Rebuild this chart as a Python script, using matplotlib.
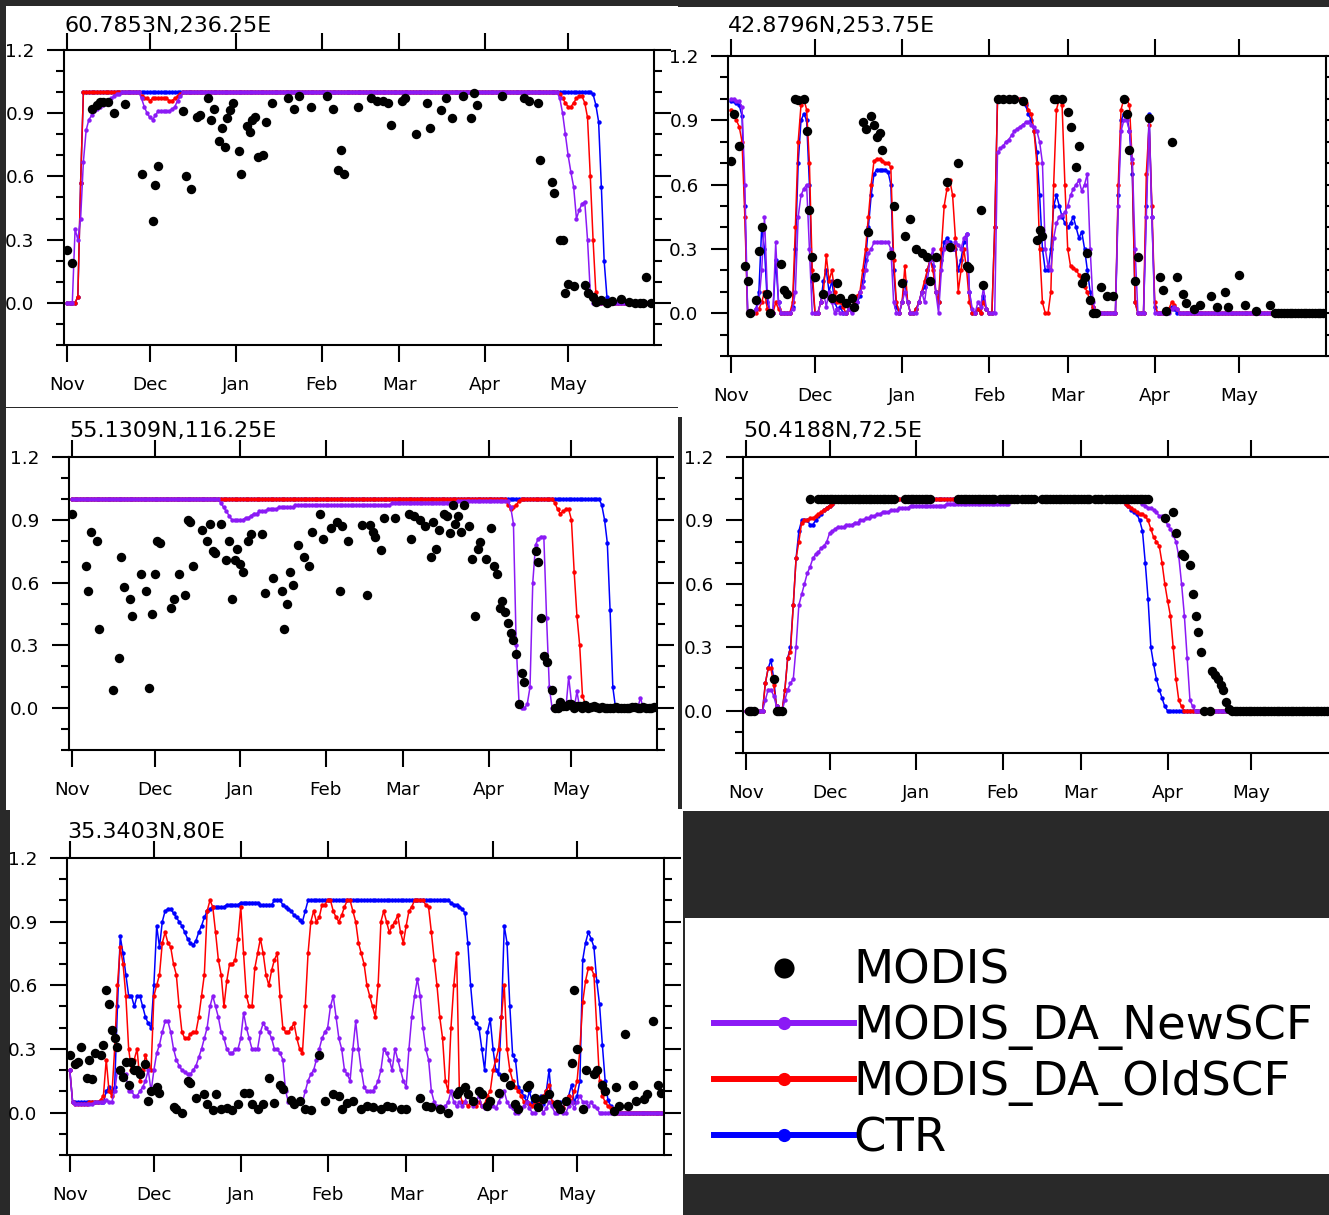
import numpy as np
import matplotlib
matplotlib.use('Agg')
import matplotlib.pyplot as plt
from matplotlib.patches import Rectangle
from matplotlib.lines import Line2D
from matplotlib.ticker import MultipleLocator

# daily snow cover fraction, 1 Nov (day 0) .. 31 May (day 211)
days = np.arange(212)
months = ['Nov', 'Dec', 'Jan', 'Feb', 'Mar', 'Apr', 'May']
month_start = [0, 30, 61, 92, 120, 151, 181]
ytick_vals = [0.0, 0.3, 0.6, 0.9, 1.2]
ytick_text = ['0.0', '0.3', '0.6', '0.9', '1.2']
labels = ['MODIS', 'MODIS_DA_NewSCF', 'MODIS_DA_OldSCF', 'CTR']

# ---------------- 60.7853N,236.25E
p1_title = '60.7853N,236.25E'
p1_ctr = [0.0, 0.0, 0.0, 0.0, 0.03, 0.57] + [1.0] * 184 + [0.99, 0.94, 0.86, 0.55, 0.2, 0.03] + [0.0] * 16
p1_old = ([0.0, 0.0, 0.0, 0.0, 0.03, 0.57] + [1.0] * 21
          + [0.98, 0.97, 0.97, 0.96, 0.97, 0.97, 0.97, 0.97, 0.97, 0.97, 0.96, 0.96, 0.97, 0.98, 0.99]
          + [1.0] * 136
          + [0.99, 0.97, 0.95, 0.93, 0.93, 0.95, 0.97, 0.98, 0.98, 0.95, 0.88, 0.6, 0.3, 0.05]
          + [0.0] * 20)
p1_new = ([0.0, 0.0, 0.0, 0.35, 0.30, 0.40, 0.67, 0.82, 0.87, 0.89, 0.91, 0.92, 0.93, 0.94, 0.95,
           0.96, 0.97, 0.98, 0.99, 0.99] + [1.0] * 7
          + [0.97, 0.93, 0.90, 0.88, 0.87, 0.89, 0.91, 0.91, 0.91, 0.91, 0.91, 0.92, 0.93, 0.96, 0.98]
          + [1.0] * 136
          + [0.97, 0.9, 0.8, 0.7, 0.62, 0.55, 0.40, 0.44, 0.47, 0.48, 0.30, 0.05, 0.0]
          + [0.0] * 21)
p1_modis_day = [0, 2, 9, 11, 12, 13, 15, 17, 21, 27, 31, 32, 33, 42, 43, 45, 47, 48, 51, 52,
                53, 55, 56, 57, 58, 59, 60, 62, 63, 65, 66, 67, 68, 69, 71, 72, 74, 80, 82, 84,
                88, 94, 96, 98, 99, 100, 105, 110, 112, 114, 116, 117, 121, 122, 126, 130, 131, 135, 137, 139,
                143, 146, 147, 148, 157, 165, 167, 170, 171, 175, 176, 178, 179, 180, 181, 183, 187, 188, 190, 191,
                193, 195, 197, 200, 203, 205, 207, 208, 209, 211]
p1_modis_val = [0.25, 0.19, 0.92, 0.94, 0.955, 0.955, 0.955, 0.9, 0.945, 0.61,
                0.39, 0.56, 0.65, 0.91, 0.6, 0.54, 0.88, 0.89, 0.97, 0.87,
                0.92, 0.77, 0.83, 0.74, 0.875, 0.915, 0.947, 0.72, 0.61, 0.84,
                0.81, 0.87, 0.88, 0.69, 0.70, 0.86, 0.95, 0.97, 0.92, 0.98,
                0.93, 0.98, 0.92, 0.63, 0.725, 0.61, 0.93, 0.97, 0.96, 0.96,
                0.95, 0.845, 0.96, 0.97, 0.80, 0.95, 0.83, 0.915, 0.97, 0.875,
                0.98, 0.875, 0.995, 0.94, 0.98, 0.97, 0.96, 0.95, 0.68, 0.575,
                0.52, 0.30, 0.30, 0.046, 0.09, 0.08, 0.085, 0.046, 0.03, 0.006,
                0.014, 0.0, 0.01, 0.02, 0.006, 0.0, 0.0, 0.0, 0.125, 0.0]

# ---------------- 42.8796N,253.75E
p2_title = '42.8796N,253.75E'
p2_ctr = [0.99, 0.99, 0.98, 0.97, 0.92, 0.5, 0.0, 0.0, 0.0, 0.02,
          0.1, 0.4, 0.3, 0.05, 0.0, 0.0, 0.25, 0.05, 0.0, 0.0,
          0.0, 0.0, 0.03, 0.3, 0.7, 0.9, 0.93, 0.9, 0.6, 0.15,
          0.0, 0.0, 0.05, 0.15, 0.2, 0.1, 0.15, 0.05, 0.02, 0.03,
          0.0, 0.0, 0.02, 0.02, 0.03, 0.05, 0.08, 0.15, 0.25, 0.4,
          0.55, 0.65, 0.67, 0.67, 0.67, 0.67, 0.66, 0.6, 0.2, 0.03,
          0.0, 0.05, 0.15, 0.05, 0.0, 0.0, 0.02, 0.05, 0.1, 0.12,
          0.2, 0.25, 0.22, 0.1, 0.05, 0.25, 0.33, 0.35, 0.33, 0.3,
          0.3, 0.2, 0.25, 0.33, 0.37, 0.1, 0.0, 0.0, 0.02, 0.0,
          0.08, 0.02, 0.0, 0.0, 0.4, 1.0, 1.0, 1.0, 1.0, 1.0,
          1.0, 1.0, 1.0, 1.0, 1.0, 0.97, 0.93, 0.9, 0.85, 0.75,
          0.55, 0.3, 0.2, 0.2, 0.3, 0.5, 0.55, 0.5, 0.45, 0.42,
          0.4, 0.42, 0.45, 0.4, 0.35, 0.38, 0.3, 0.2, 0.1, 0.03,
          0.0, 0.0, 0.0, 0.0, 0.0, 0.0, 0.0, 0.0, 0.55, 0.9,
          0.93, 0.92, 0.85, 0.65, 0.05, 0.0, 0.0, 0.0, 0.5, 0.93,
          0.45, 0.03, 0.0, 0.0, 0.0, 0.0, 0.02, 0.03, 0.02, 0.0] + [0.0] * 52
p2_old = [0.95, 0.93, 0.9, 0.87, 0.8, 0.45, 0.0, 0.0, 0.0, 0.0,
          0.02, 0.05, 0.1, 0.02, 0.0, 0.0, 0.05, 0.02, 0.0, 0.0,
          0.0, 0.0, 0.05, 0.4, 0.8, 0.97, 1.0, 0.95, 0.7, 0.2,
          0.0, 0.0, 0.05, 0.1, 0.27, 0.15, 0.2, 0.1, 0.05, 0.05,
          0.03, 0.0, 0.02, 0.02, 0.05, 0.08, 0.1, 0.2, 0.3, 0.45,
          0.6, 0.71, 0.72, 0.72, 0.71, 0.7, 0.7, 0.68, 0.25, 0.05,
          0.0, 0.05, 0.22, 0.05, 0.0, 0.0, 0.02, 0.05, 0.1, 0.15,
          0.2, 0.25, 0.2, 0.1, 0.05, 0.3, 0.5, 0.58, 0.62, 0.55,
          0.35, 0.1, 0.2, 0.3, 0.2, 0.05, 0.0, 0.0, 0.02, 0.0,
          0.05, 0.02, 0.0, 0.0, 0.4, 1.0, 1.0, 1.0, 1.0, 1.0,
          1.0, 1.0, 1.0, 1.0, 1.0, 0.98, 0.95, 0.93, 0.85, 0.7,
          0.3, 0.05, 0.0, 0.0, 0.1, 0.6, 0.95, 1.0, 0.97, 0.6,
          0.3, 0.22, 0.21, 0.2, 0.18, 0.15, 0.12, 0.1, 0.05, 0.03,
          0.0, 0.0, 0.0, 0.0, 0.0, 0.0, 0.0, 0.0, 0.6, 0.95,
          1.0, 1.0, 0.97, 0.7, 0.05, 0.0, 0.0, 0.0, 0.65, 0.88,
          0.5, 0.05, 0.0, 0.0, 0.0, 0.0, 0.02, 0.05, 0.04, 0.02] + [0.0] * 52
p2_new = [1.0, 1.0, 0.99, 0.99, 0.96, 0.6, 0.0, 0.0, 0.0, 0.02,
          0.05, 0.2, 0.45, 0.1, 0.0, 0.0, 0.33, 0.05, 0.0, 0.0,
          0.0, 0.0, 0.02, 0.1, 0.45, 0.55, 0.58, 0.6, 0.3, 0.0,
          0.0, 0.0, 0.05, 0.1, 0.03, 0.1, 0.05, 0.0, 0.02, 0.0,
          0.0, 0.0, 0.02, 0.0, 0.03, 0.05, 0.1, 0.12, 0.2, 0.28,
          0.3, 0.33, 0.33, 0.33, 0.33, 0.33, 0.33, 0.3, 0.05, 0.0,
          0.0, 0.05, 0.1, 0.05, 0.0, 0.0, 0.0, 0.05, 0.1, 0.05,
          0.15, 0.25, 0.3, 0.1, 0.0, 0.2, 0.3, 0.33, 0.3, 0.3,
          0.33, 0.32, 0.3, 0.35, 0.37, 0.1, 0.02, 0.0, 0.05, 0.03,
          0.12, 0.02, 0.0, 0.0, 0.0, 0.75, 0.77, 0.78, 0.8, 0.81,
          0.83, 0.85, 0.86, 0.87, 0.88, 0.89, 0.89, 0.88, 0.87, 0.85,
          0.8, 0.7, 0.3, 0.22, 0.2, 0.35, 0.42, 0.45, 0.46, 0.47,
          0.5, 0.55, 0.58, 0.6, 0.62, 0.57, 0.6, 0.65, 0.3, 0.05,
          0.0, 0.0, 0.0, 0.0, 0.0, 0.0, 0.0, 0.0, 0.5, 0.85,
          0.9, 0.9, 0.85, 0.72, 0.3, 0.0, 0.0, 0.0, 0.45, 0.9,
          0.45, 0.0, 0.0, 0.0, 0.0, 0.0, 0.0, 0.02, 0.03, 0.02] + [0.0] * 52
p2_modis_day = [0, 1, 3, 5, 6, 7, 9, 10, 11, 13, 14, 18, 19, 20, 23, 24, 26, 27, 28, 29,
                30, 33, 36, 38, 39, 41, 43, 44, 47, 48, 49, 50, 51, 52, 53, 54, 57, 58, 61, 62,
                64, 66, 68, 70, 71, 73, 77, 78, 81, 84, 85, 89, 90, 95, 97, 99, 101, 104, 109, 110,
                111, 115, 116, 118, 120, 121, 123, 124, 125, 126, 127, 128, 129, 130, 132, 134, 136, 140, 141, 142,
                144, 145, 149, 153, 154, 155, 157, 159, 161, 162, 165, 167, 171, 173, 176, 177, 181, 183, 187, 192,
                194, 195, 196, 197, 198, 199, 200, 201, 202, 203, 204, 205, 206, 207, 208, 209, 210, 211]
p2_modis_val = [0.71, 0.93, 0.78, 0.22, 0.15, 0.0, 0.06, 0.29, 0.4, 0.09,
                0.0, 0.23, 0.11, 0.09, 1.0, 0.995, 1.0, 0.85, 0.48, 0.26,
                0.17, 0.09, 0.07, 0.14, 0.07, 0.045, 0.07, 0.03, 0.89, 0.86,
                0.38, 0.92, 0.88, 0.82, 0.84, 0.76, 0.27, 0.5, 0.14, 0.36,
                0.44, 0.3, 0.28, 0.26, 0.15, 0.26, 0.61, 0.31, 0.70, 0.22,
                0.21, 0.48, 0.13, 1.0, 1.0, 1.0, 1.0, 0.99, 0.34, 0.39,
                0.36, 1.0, 1.0, 1.0, 0.94, 0.87, 0.68, 0.78, 0.14, 0.17,
                0.28, 0.06, 0.0, 0.0, 0.12, 0.08, 0.08, 1.0, 0.93, 0.76,
                0.15, 0.26, 0.91, 0.17, 0.11, 0.01, 0.8, 0.17, 0.09, 0.045,
                0.02, 0.04, 0.08, 0.03, 0.1, 0.03, 0.18, 0.04, 0.01, 0.04,
                0.0, 0.0, 0.0, 0.0, 0.0, 0.0, 0.0, 0.0, 0.0, 0.0,
                0.0, 0.0, 0.0, 0.0, 0.0, 0.0, 0.0, 0.0]

# ---------------- 55.1309N,116.25E
p3_title = '55.1309N,116.25E'
p3_ctr = [1.0] * 192 + [0.97, 0.9, 0.79, 0.47, 0.1] + [0.0] * 15
p3_old = ([1.0] * 158 + [0.97, 0.95, 0.96, 0.97, 0.99, 1.0] + [1.0] * 11
          + [0.98, 0.95, 0.93, 0.94, 0.95, 0.95, 0.9, 0.65, 0.44, 0.3, 0.06, 0.02]
          + [0.0] * 25)
p3_new = ([1.0] * 54
          + [0.98, 0.96, 0.94, 0.92, 0.90, 0.90, 0.90, 0.90, 0.90, 0.91, 0.91, 0.92, 0.93]
          + [0.93, 0.94, 0.94, 0.94, 0.95, 0.95, 0.95, 0.95, 0.96, 0.96, 0.96, 0.96, 0.96, 0.96]
          + [0.97] * 35 + [0.98] * 24 + [0.99] * 19
          + [0.96, 0.88, 0.3, 0.03, 0.0, 0.0, 0.02, 0.1, 0.6, 0.78, 0.81, 0.82, 0.82, 0.43, 0.1, 0.0]
          + [0.0] * 5 + [0.15, 0.03, 0.0, 0.08] + [0.0] * 22 + [0.05] + [0.0] * 5)
p3_modis_day = [0, 5, 6, 7, 9, 10, 15, 17, 18, 19, 21, 22, 25, 27, 28, 29, 30, 31, 32, 36,
                37, 39, 41, 42, 43, 44, 47, 49, 50, 51, 52, 54, 56, 57, 58, 59, 60, 61, 62, 64,
                65, 69, 70, 73, 76, 77, 78, 79, 80, 82, 84, 86, 87, 90, 91, 94, 96, 97, 98, 100,
                105, 107, 108, 109, 110, 112, 113, 117, 122, 123, 124, 126, 128, 130, 131, 132, 133, 135, 136, 137,
                138, 139, 140, 141, 142, 144, 145, 146, 147, 148, 150, 152, 153, 154, 155, 156, 157, 158, 159, 160,
                161, 162, 163, 164, 168, 169, 170, 171, 172, 174,
                175, 176, 177, 178, 179, 180, 181, 182, 183, 184, 185, 186, 187, 188, 189, 190, 191, 192, 193, 194,
                195, 196, 197, 198, 199, 200, 201, 202, 203, 204, 205, 206, 207, 208, 209, 210, 211]
p3_modis_val = [0.93, 0.68, 0.56, 0.84, 0.80, 0.38, 0.086, 0.24, 0.72, 0.58,
                0.52, 0.44, 0.64, 0.56, 0.095, 0.45, 0.64, 0.80, 0.79, 0.48,
                0.52, 0.64, 0.54, 0.90, 0.89, 0.68, 0.85, 0.80, 0.88, 0.75,
                0.74, 0.88, 0.71, 0.80, 0.52, 0.71, 0.76, 0.69, 0.65, 0.80,
                0.83, 0.83, 0.55, 0.62, 0.56, 0.38, 0.50, 0.65, 0.59, 0.78,
                0.72, 0.68, 0.84, 0.93, 0.81, 0.86, 0.89, 0.56, 0.87, 0.80,
                0.875, 0.54, 0.875, 0.84, 0.82, 0.755, 0.91, 0.91, 0.93, 0.81,
                0.92, 0.90, 0.87, 0.72, 0.89, 0.76, 0.85, 0.93, 0.92, 0.835,
                0.97, 0.88, 0.92, 0.84, 0.97, 0.87, 0.715, 0.44, 0.76, 0.795,
                0.715, 0.86, 0.68, 0.64, 0.48, 0.51, 0.46, 0.405, 0.36, 0.325,
                0.26, 0.02, 0.17, 0.125, 0.75, 0.70, 0.43, 0.25, 0.22, 0.086,
                0.0, 0.0, 0.03, 0.01, 0.01, 0.02, 0.02, 0.0, 0.01, 0.01,
                0.0, 0.014, 0.0, 0.005, 0.01, 0.005, 0.0, 0.005, 0.0, 0.0,
                0.0, 0.0, 0.005, 0.0, 0.0, 0.0, 0.0, 0.0, 0.005, 0.005,
                0.0, 0.0, 0.005, 0.0, 0.0, 0.0, 0.005]

# ---------------- 50.4188N,72.5E
p4_title = '50.4188N,72.5E'
p4_ctr = ([0.0] * 7
          + [0.13, 0.2, 0.24, 0.15, 0.02, 0.0, 0.0, 0.1, 0.25, 0.3, 0.5, 0.72, 0.85, 0.9, 0.9, 0.9,
             0.88, 0.88, 0.9, 0.92, 0.93, 0.95, 0.96, 0.97, 0.98, 0.99]
          + [1.0] * 102
          + [0.99, 0.98, 0.97, 0.95, 0.94, 0.93, 0.9, 0.85, 0.7, 0.53, 0.3, 0.22, 0.15, 0.1, 0.06, 0.02]
          + [0.0] * 61)
p4_old = ([0.0] * 7
          + [0.13, 0.2, 0.2, 0.12, 0.02, 0.0, 0.0, 0.1, 0.25, 0.28, 0.5, 0.72, 0.8, 0.89, 0.9, 0.9,
             0.91, 0.91, 0.92, 0.93, 0.94, 0.95, 0.96, 0.97, 0.98, 0.99]
          + [1.0] * 102
          + [0.99, 0.98, 0.97, 0.96, 0.95, 0.94, 0.93, 0.93, 0.92, 0.9, 0.86, 0.82, 0.8, 0.78, 0.7,
             0.6, 0.52, 0.45, 0.3, 0.15, 0.05, 0.02]
          + [0.0] * 55)
p4_new = ([0.0] * 7
          + [0.05, 0.1, 0.1, 0.07, 0.02, 0.0, 0.0, 0.05, 0.1, 0.13, 0.15, 0.3, 0.5, 0.55, 0.6, 0.65,
             0.68, 0.72, 0.74, 0.75, 0.77, 0.78, 0.8, 0.84, 0.85, 0.86]
          + [0.87, 0.87, 0.87, 0.88, 0.88, 0.88, 0.89]
          + [0.89, 0.9, 0.9, 0.91, 0.91, 0.92, 0.92, 0.93, 0.93, 0.94]
          + [0.94, 0.94, 0.95, 0.95, 0.95, 0.96, 0.96, 0.96, 0.96, 0.97]
          + [0.97] * 12 + [0.98] * 23 + [1.0] * 46
          + [0.99, 0.98, 0.97, 0.96, 0.96, 0.95, 0.94, 0.92, 0.92, 0.9, 0.88, 0.86, 0.83, 0.8, 0.73,
             0.6, 0.45, 0.25, 0.05, 0.02]
          + [0.0] * 51)
p4_modis_day = ([1, 2, 3, 10, 11, 12, 13, 23] + list(range(26, 54)) + list(range(57, 67))
                + list(range(76, 90)) + list(range(91, 98)) + list(range(99, 104))
                + list(range(106, 124)) + list(range(125, 128)) + list(range(129, 145))
                + [150, 153, 154, 156, 157, 159, 160, 161, 162, 163, 164, 166, 167, 168, 169, 170, 171, 172, 173]
                + list(range(174, 212)))
p4_modis_val = ([0.0, 0.0, 0.0, 0.15, 0.0, 0.0, 0.0, 1.0] + [1.0] * 28 + [1.0] * 10
                + [1.0] * 14 + [1.0] * 7 + [1.0] * 5
                + [1.0] * 18 + [1.0] * 3 + [1.0] * 16
                + [0.91, 0.94, 0.84, 0.74, 0.73, 0.69, 0.55, 0.45, 0.37, 0.28, 0.0, 0.0, 0.19, 0.17, 0.15,
                   0.12, 0.1, 0.04, 0.01]
                + [0.0] * 38)

# ---------------- 35.3403N,80E
p5_title = '35.3403N,80E'
p5_ctr = ([0.2, 0.05, 0.05, 0.05, 0.05, 0.05, 0.05, 0.05, 0.05, 0.05,
           0.05, 0.05, 0.05, 0.1, 0.12, 0.1, 0.12, 0.5, 0.83, 0.75,
           0.65, 0.55, 0.55, 0.5, 0.55, 0.55, 0.5, 0.45, 0.42, 0.4,
           0.6, 0.88, 0.78, 0.9, 0.95, 0.96, 0.96, 0.94, 0.92, 0.9,
           0.88, 0.85, 0.82, 0.8, 0.79, 0.81, 0.85, 0.88, 0.92, 0.95,
           0.96, 0.97, 0.97, 0.97, 0.97, 0.97, 0.98, 0.98, 0.98, 0.98,
           0.98, 0.99, 0.99, 0.99, 0.99, 0.99, 0.99, 0.99, 0.98, 0.98,
           0.98, 0.98, 0.98, 1.0, 1.0, 1.0, 0.98, 0.97, 0.96, 0.95,
           0.93, 0.92, 0.91, 0.9, 0.95, 1.0, 1.0, 1.0, 1.0, 1.0]
          + [1.0] * 46
          + [0.99, 0.98, 0.98, 0.97]
          + [0.96, 0.94, 0.8, 0.6, 0.45, 0.42, 0.4, 0.3, 0.2, 0.38,
             0.44, 0.3, 0.2, 0.18, 0.45, 0.88, 0.8, 0.5, 0.27, 0.25,
             0.12, 0.1, 0.08, 0.05, 0.1, 0.05, 0.03, 0.05, 0.08, 0.04,
             0.1, 0.2, 0.05, 0.03, 0.02, 0.05, 0.02, 0.05, 0.08, 0.13,
             0.05, 0.08, 0.15, 0.72, 0.8, 0.85, 0.82, 0.78, 0.62, 0.51,
             0.32, 0.15, 0.06, 0.03, 0.0, 0.0, 0.0, 0.0, 0.0, 0.0]
          + [0.0] * 12)
p5_old = ([0.2, 0.05, 0.04, 0.04, 0.04, 0.04, 0.04, 0.05, 0.05, 0.05,
           0.05, 0.06, 0.08, 0.25, 0.1, 0.08, 0.3, 0.6, 0.78, 0.7,
           0.55, 0.3, 0.2, 0.25, 0.3, 0.15, 0.2, 0.27, 0.22, 0.2,
           0.55, 0.6, 0.65, 0.8, 0.85, 0.8, 0.78, 0.7, 0.65, 0.5,
           0.38, 0.35, 0.35, 0.37, 0.38, 0.38, 0.45, 0.55, 0.65, 0.95,
           1.0, 0.97, 0.85, 0.72, 0.65, 0.5, 0.62, 0.7, 0.7, 0.72,
           0.82, 0.97, 0.75, 0.55, 0.5, 0.5, 0.68, 0.75, 0.82, 0.75,
           0.65, 0.6, 0.67, 0.72, 0.75, 0.55, 0.4, 0.38, 0.38, 0.4,
           0.42, 0.35, 0.3, 0.28, 0.5, 0.75, 0.9, 0.95, 0.9, 0.92,
           0.98, 0.98, 1.0, 1.0, 0.95, 0.92, 0.9, 0.93, 0.97, 1.0,
           1.0, 0.95, 0.9, 0.8, 0.75, 0.7, 0.6, 0.55, 0.5, 0.45,
           0.6, 0.9, 0.95, 0.9, 0.85, 0.88, 0.9, 0.93, 0.85, 0.8,
           0.88, 0.95, 0.97, 1.0, 1.0, 1.0, 1.0, 0.98, 0.97, 0.85,
           0.72, 0.6, 0.45, 0.35, 0.15, 0.1, 0.4, 0.6, 0.75, 0.1,
           0.05, 0.05, 0.03, 0.05, 0.04, 0.03, 0.05, 0.03, 0.04, 0.08,
           0.1, 0.2, 0.25, 0.3, 0.45, 0.6, 0.3, 0.2, 0.15, 0.12,
           0.1, 0.08, 0.05, 0.05, 0.04, 0.03, 0.05, 0.04, 0.05, 0.08,
           0.1, 0.13, 0.05, 0.03, 0.02, 0.03, 0.02, 0.05, 0.08, 0.05,
           0.1, 0.15, 0.3, 0.52, 0.62, 0.68, 0.68, 0.65, 0.4, 0.15,
           0.08, 0.05, 0.03, 0.02, 0.0, 0.0, 0.0, 0.0, 0.0, 0.0]
          + [0.0] * 12)
p5_new = ([0.2, 0.05, 0.04, 0.04, 0.04, 0.04, 0.04, 0.04, 0.04, 0.05,
           0.05, 0.05, 0.05, 0.06, 0.05, 0.05, 0.1, 0.2, 0.2, 0.18,
           0.18, 0.1, 0.1, 0.08, 0.08, 0.1, 0.12, 0.15, 0.2, 0.1,
           0.2, 0.28, 0.32, 0.38, 0.43, 0.43, 0.38, 0.3, 0.25, 0.22,
           0.2, 0.19, 0.18, 0.18, 0.2, 0.22, 0.26, 0.3, 0.35, 0.4,
           0.5, 0.55, 0.5, 0.45, 0.38, 0.35, 0.3, 0.28, 0.28, 0.3,
           0.3, 0.35, 0.47, 0.4, 0.35, 0.3, 0.3, 0.3, 0.38, 0.42,
           0.4, 0.38, 0.35, 0.3, 0.3, 0.28, 0.25, 0.1, 0.05, 0.05,
           0.05, 0.05, 0.05, 0.05, 0.1, 0.15, 0.18, 0.2, 0.25, 0.3,
           0.35, 0.38, 0.4, 0.5, 0.55, 0.45, 0.35, 0.3, 0.2, 0.18,
           0.15, 0.3, 0.43, 0.3, 0.2, 0.12, 0.1, 0.1, 0.1, 0.12,
           0.15, 0.2, 0.3, 0.28, 0.25, 0.2, 0.3, 0.25, 0.2, 0.15,
           0.12, 0.3, 0.45, 0.55, 0.63, 0.55, 0.4, 0.3, 0.25, 0.1,
           0.05, 0.03, 0.03, 0.02, 0.03, 0.05, 0.1, 0.05, 0.03, 0.05,
           0.03, 0.05, 0.1, 0.05, 0.03, 0.05, 0.08, 0.03, 0.02, 0.03,
           0.05, 0.03, 0.02, 0.05, 0.08, 0.1, 0.05, 0.03, 0.02, 0.0,
           0.0, 0.02, 0.03, 0.05, 0.02, 0.0, 0.0, 0.02, 0.03, 0.0,
           0.02, 0.05, 0.03, 0.0, 0.0, 0.02, 0.0, 0.0, 0.03, 0.05,
           0.02, 0.05, 0.08, 0.05, 0.05, 0.03, 0.05, 0.03, 0.02, 0.0]
          + [0.0] * 22)
p5_modis_day = [0, 2, 3, 4, 6, 7, 8, 9, 11, 12, 13, 14, 15, 16, 17, 18, 19, 20, 21, 22,
                23, 24, 25, 27, 28, 29, 31, 32, 37, 38, 40, 42, 43, 45, 48, 49, 51, 52, 54, 56,
                58, 60, 62, 64, 65, 67, 69, 71, 73, 75, 76, 79, 80, 82, 84, 86, 89, 91, 94, 96,
                97, 99, 101, 104, 106, 108, 111, 113, 115, 118, 120, 125, 127, 129, 132, 135, 138, 139, 141, 142,
                144, 146, 147, 149, 150, 153, 155, 157, 159, 160, 163, 164, 166, 167, 169, 171, 174, 175, 177, 179,
                180, 181, 183, 184, 187, 188, 190, 191, 194, 195, 196, 198, 199, 201, 202, 205, 206, 208, 210, 211]
p5_modis_val = [0.27, 0.23, 0.24, 0.31, 0.165, 0.25, 0.16, 0.28, 0.27, 0.32,
                0.58, 0.51, 0.39, 0.35, 0.31, 0.2, 0.17, 0.24, 0.13, 0.24,
                0.2, 0.2, 0.18, 0.23, 0.055, 0.1, 0.12, 0.094, 0.024, 0.016,
                0.0, 0.15, 0.14, 0.07, 0.086, 0.04, 0.01, 0.086, 0.015, 0.02,
                0.01, 0.04, 0.094, 0.094, 0.04, 0.015, 0.04, 0.165, 0.047, 0.13,
                0.11, 0.06, 0.04, 0.055, 0.015, 0.01, 0.27, 0.055, 0.086, 0.08,
                0.015, 0.047, 0.055, 0.015, 0.03, 0.024, 0.015, 0.03, 0.024, 0.015,
                0.015, 0.07, 0.03, 0.024, 0.015, 0.0, 0.086, 0.1, 0.12, 0.086,
                0.055, 0.1, 0.086, 0.03, 0.055, 0.094, 0.17, 0.13, 0.04, 0.015,
                0.12, 0.13, 0.07, 0.024, 0.063, 0.086, 0.04, 0.015, 0.055, 0.235,
                0.58, 0.3, 0.015, 0.2, 0.18, 0.2, 0.13, 0.1, 0.008, 0.12,
                0.03, 0.37, 0.03, 0.13, 0.055, 0.063, 0.086, 0.43, 0.13, 0.094]

C_NEW = '#8B1AF5'
C_OLD = '#FF0000'
C_CTR = '#0000FF'
BG = '#292929'

W, H = 1329, 1215


def px_box(x0, y0, x1, y1):
    # pixel box (origin top-left) -> figure fraction [left, bottom, width, height]
    return [x0 / W, 1 - y1 / H, (x1 - x0) / W, (y1 - y0) / H]


def sheet(x0, y0, x1, y1, color):
    l, b, w, h = px_box(x0, y0, x1, y1)
    fig.add_artist(Rectangle((l, b), w, h, transform=fig.transFigure,
                             facecolor=color, edgecolor='none', zorder=-1))


def draw_panel(frame, title, title_gap, ctr, old, new, m_day, m_val):
    for s in (ctr, old, new):
        assert len(s) == len(days), title
    assert len(m_day) == len(m_val), title
    ax = fig.add_axes(px_box(*frame))
    ax.set_facecolor('white')
    for series, col in ((ctr, C_CTR), (old, C_OLD), (new, C_NEW)):
        ax.plot(days, series, color=col, lw=1.1, marker='o', ms=3.2, mew=0)
    ax.plot(m_day, m_val, 'o', color='black', ms=6.8, mew=0, zorder=5)
    ax.set_xlim(-1, 212)
    ax.set_ylim(-0.2, 1.2)
    ax.set_xticks(month_start)
    ax.set_xticklabels(months)
    ax.set_yticks(ytick_vals)
    ax.set_yticklabels(ytick_text)
    ax.yaxis.set_minor_locator(MultipleLocator(0.1))
    ax.tick_params(which='both', direction='out', top=True, right=True,
                   width=1.5, color='black', labelcolor='black')
    ax.tick_params(which='major', length=12)
    ax.tick_params(which='minor', length=6)
    ax.tick_params(axis='x', labelsize=13.2, pad=10.5)
    ax.tick_params(axis='y', labelsize=13.2, pad=9.2)
    for sp in ax.spines.values():
        sp.set_linewidth(1.5)
    ax.annotate(title, xy=(0, 1), xycoords='axes fraction', xytext=(0, title_gap),
                textcoords='offset points', ha='left', va='baseline', fontsize=16)
    return ax


fig = plt.figure(figsize=(W / 100, H / 100), dpi=100, facecolor=BG)

# white sheets the plots sit on
sheet(6, 6, 678, 407, 'white')
sheet(678, 7, 1329, 408, 'white')
sheet(6, 408, 678, 810, 'white')
sheet(678, 408, 1329, 811, 'white')
sheet(10, 810, 683, 1215, 'white')
sheet(685, 918, 1329, 1174, 'white')
sheet(678, 417, 682, 809, BG)

draw_panel((64, 50, 654, 345), p1_title, 13, p1_ctr, p1_old, p1_new, p1_modis_day, p1_modis_val)
draw_panel((728, 56, 1326, 356), p2_title, 17, p2_ctr, p2_old, p2_new, p2_modis_day, p2_modis_val)
draw_panel((69, 457, 657, 750), p3_title, 14.4, p3_ctr, p3_old, p3_new, p3_modis_day, p3_modis_val)
draw_panel((743, 457, 1338, 753), p4_title, 14.4, p4_ctr, p4_old, p4_new, p4_modis_day, p4_modis_val)
draw_panel((67, 858, 664, 1155), p5_title, 14.4, p5_ctr, p5_old, p5_new, p5_modis_day, p5_modis_val)

handles = [Line2D([], [], ls='none', marker='o', color='black', ms=14.5, mew=0),
           Line2D([], [], color=C_NEW, lw=4.3, marker='o', ms=9.5, mew=0),
           Line2D([], [], color=C_OLD, lw=4.3, marker='o', ms=9.5, mew=0),
           Line2D([], [], color=C_CTR, lw=4.3, marker='o', ms=9.5, mew=0)]
fig.legend(handles, labels, loc='upper left', bbox_to_anchor=(714 / W, 1 - 949 / H),
           frameon=False, fontsize=33.5, handlelength=3.0, handletextpad=0.0,
           labelspacing=0.22, borderpad=0, borderaxespad=0, numpoints=1)

fig.savefig('out.png', dpi=100, facecolor=fig.get_facecolor())
